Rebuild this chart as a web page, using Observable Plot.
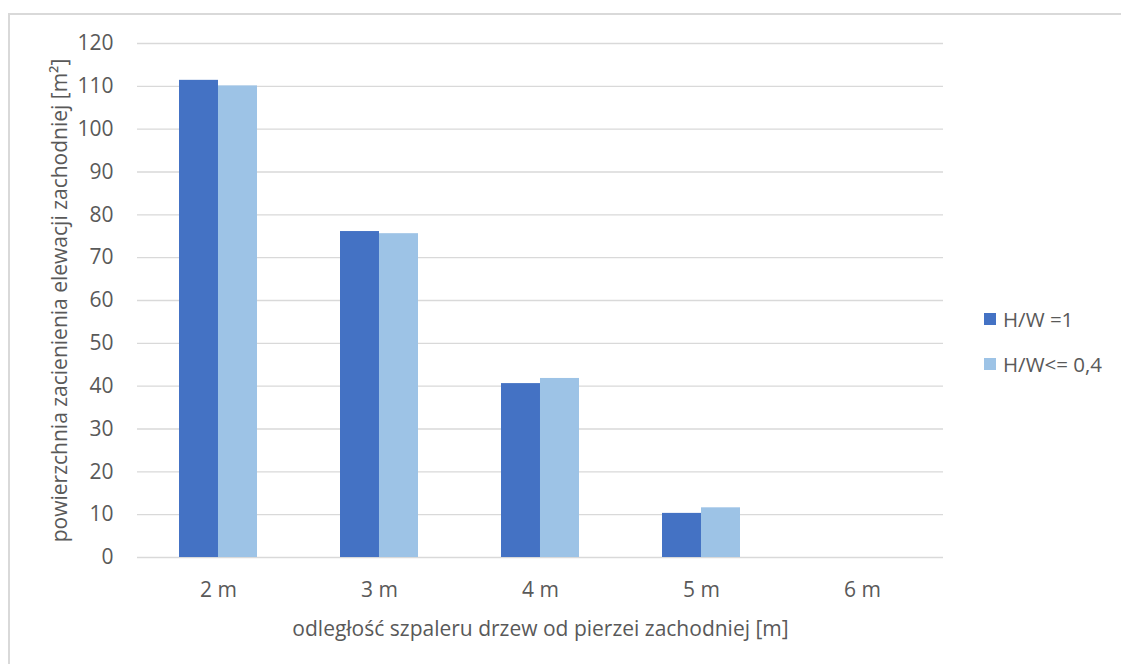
<!DOCTYPE html>
<html>
<head>
<meta charset="utf-8">
<script src="https://cdn.jsdelivr.net/npm/d3@7"></script>
<script src="https://cdn.jsdelivr.net/npm/@observablehq/plot@0.6"></script>
<style>
  html, body { margin: 0; padding: 0; background: #fff; overflow: hidden; }
  #wrap { position: relative; width: 1121px; height: 664px; font-family: "Open Sans", sans-serif; }
  #frame { position: absolute; left: 8px; top: 13px; width: 1200px; height: 700px; border: 2px solid #d9d9d9; box-sizing: border-box; }
  #chart { position: absolute; left: 0; top: 0; }
  #legend { position: absolute; left: 984px; top: 306px; font-size: 20.5px; color: #595959; }
  .item { display: flex; align-items: center; height: 26px; margin-bottom: 19px; }
  .sw { width: 12px; height: 12px; margin-right: 7px; }
</style>
</head>
<body>
<div id="wrap">
  <div id="frame"></div>
  <div id="chart"></div>
  <div id="legend"></div>
</div>
<script>
const categories = ["2 m", "3 m", "4 m", "5 m", "6 m"];
const seriesNames = ["H/W =1", "H/W<= 0,4"];
const seriesColors = ["#4472c4", "#9dc3e6"];
const valuesHW1 = [111.4, 76.1, 40.6, 10.3, 0];
const valuesHW04 = [110.1, 75.6, 41.8, 11.6, 0];
const yTicks = [0, 10, 20, 30, 40, 50, 60, 70, 80, 90, 100, 110, 120];
const xTitle = "odległość szpaleru drzew od pierzei zachodniej [m]";
const yTitle = "powierzchnia zacienienia elewacji zachodniej [m²]";

const d1 = categories.map((c, i) => ({cat: c, value: valuesHW1[i]}));
const d2 = categories.map((c, i) => ({cat: c, value: valuesHW04[i]}));

const W = 1121, H = 664;
const mL = 137, mR = 178, mT = 43, mB = 107;
const pIn = 0.516, pOut = 0.258;
const step = (W - mL - mR) / (categories.length - pIn + 2 * pOut);
const bw = step * (1 - pIn);
const half = bw / 2;
const fs = 21;

const chart = Plot.plot({
  width: W, height: H,
  marginLeft: mL, marginRight: mR, marginTop: mT, marginBottom: mB,
  style: {fontFamily: "Open Sans, sans-serif", fontSize: fs + "px", color: "#595959", background: "transparent"},
  x: {domain: categories, paddingInner: pIn, paddingOuter: pOut, label: null},
  y: {domain: [0, 120], label: null},
  marks: [
    Plot.ruleY(yTicks, {stroke: "#d9d9d9", strokeWidth: 1.3}),
    Plot.barY(d1, {x: "cat", y: "value", fill: seriesColors[0], insetRight: half}),
    Plot.barY(d2, {x: "cat", y: "value", fill: seriesColors[1], insetLeft: half}),
    Plot.axisY({ticks: yTicks, tickSize: 0, tickPadding: 24, fill: "#595959", fontSize: fs}),
    Plot.axisX({tickSize: 0, tickPadding: 25, fill: "#595959", fontSize: fs}),
    Plot.text([xTitle], {frameAnchor: "bottom", dy: 72, fill: "#595959", fontSize: fs, lineAnchor: "middle"}),
    Plot.text([yTitle], {frameAnchor: "left", dx: -77, rotate: -90, textAnchor: "middle", fill: "#595959", fontSize: fs})
  ]
});
document.getElementById("chart").appendChild(chart);

const leg = document.getElementById("legend");
seriesNames.forEach((n, i) => {
  const it = document.createElement("div");
  it.className = "item";
  const sw = document.createElement("span");
  sw.className = "sw";
  sw.style.background = seriesColors[i];
  const t = document.createElement("span");
  t.textContent = n;
  it.appendChild(sw); it.appendChild(t);
  leg.appendChild(it);
});
</script>
</body>
</html>
